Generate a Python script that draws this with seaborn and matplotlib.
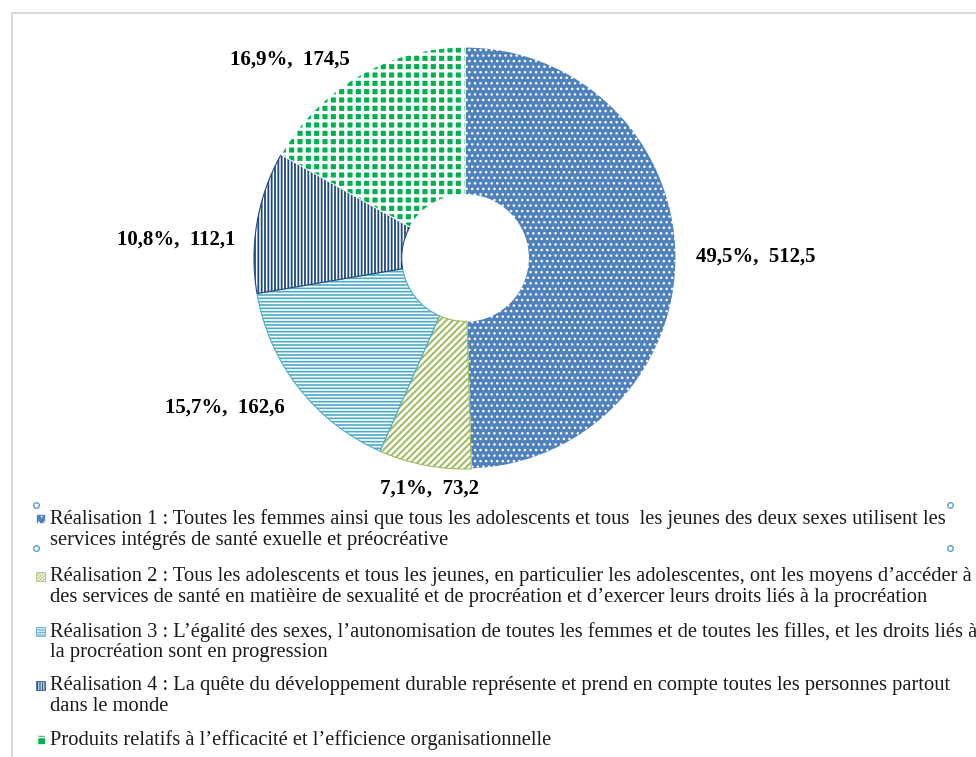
import matplotlib.pyplot as plt
import matplotlib.patches as mpatches
import seaborn as sns

sns.set_theme(style="white")
plt.rcParams['font.family'] = ['Liberation Serif', 'DejaVu Serif']
plt.rcParams['hatch.linewidth'] = 1.2

# data
values = [512.5, 73.2, 162.6, 112.1, 174.5]
percents = ["49,5%", "7,1%", "15,7%", "10,8%", "16,9%"]
value_labels = ["512,5", "73,2", "162,6", "112,1", "174,5"]
legend_texts = [
    "Réalisation 1 : Toutes les femmes ainsi que tous les adolescents et tous  les jeunes des deux sexes utilisent les\nservices intégrés de santé exuelle et préocréative",
    "Réalisation 2 : Tous les adolescents et tous les jeunes, en particulier les adolescentes, ont les moyens d’accéder à\ndes services de santé en matièire de sexualité et de procréation et d’exercer leurs droits liés à la procréation",
    "Réalisation 3 : L’égalité des sexes, l’autonomisation de toutes les femmes et de toutes les filles, et les droits liés à\nla procréation sont en progression",
    "Réalisation 4 : La quête du développement durable représente et prend en compte toutes les personnes partout\ndans le monde",
    "Produits relatifs à l’efficacité et l’efficience organisationnelle",
]

# styles: (face, hatch colour, hatch, hatch width)
styles = [
    ("#4F81BD", "white", "...", 1.0),
    ("white", "#9BBB59", "/////", 1.4),
    ("white", "#4BACC6", "-----", 1.2),
    ("white", "#1F497D", "|||||", 1.3),
    ("#00B050", "white", "++", 2.3),
]
label_pos = [(1.38, 0.005), (-0.17, -1.095), (-1.14, -0.71), (-1.37, 0.085), (-0.83, 0.94)]

fig = plt.figure(figsize=(9.76, 7.57), dpi=100)

# frame
fig.patches.append(mpatches.Rectangle((12 / 976, -0.05), 1.1, 1 - 13 / 757 + 0.05,
                                      transform=fig.transFigure, fill=False,
                                      edgecolor="#D9D9D9", linewidth=1.5))


def hatch_style(p, fc, hc, h, lw):
    p.set_facecolor(fc)
    p.set_edgecolor(hc)
    p.set_hatch(h)
    if hasattr(p, "set_hatch_linewidth"):
        p.set_hatch_linewidth(lw)
    else:
        p._hatch_linewidth = lw


ax = fig.add_axes([254 / 976, 288 / 757, 422 / 976, 422 / 757])
wedges, _ = ax.pie(values, startangle=90, counterclock=False, radius=1,
                   wedgeprops=dict(width=0.7, linewidth=0.8))
for w, st in zip(wedges, styles):
    hatch_style(w, *st)
ax.set_xlim(-1, 1)
ax.set_ylim(-1, 1)
ax.set_aspect("auto")
ax.axis("off")

for (x, y), p, v in zip(label_pos, percents, value_labels):
    ax.text(x, y, f"{p},  {v}", ha="center", va="center", fontsize=15,
            fontweight="bold", color="black", clip_on=False)

# legend
line_centers = [529.5, 587, 642, 696, 740]
icon_y = [518, 576, 631, 685, 739]
for (fc, hc, h, lw), txt, yc, yi in zip(styles, legend_texts, line_centers, icon_y):
    r = mpatches.Rectangle((36 / 976, 1 - (yi + 4.5) / 757), 9 / 976, 9 / 757,
                           transform=fig.transFigure, linewidth=0.5)
    hatch_style(r, fc, hc, h * 2 if fc == "white" else h, lw * 0.5)
    fig.patches.append(r)
    fig.text(50 / 976, 1 - yc / 757, txt, ha="left", va="center", fontsize=14.8,
             color="#1a1a1a", linespacing=1.1)

# selection handles
for hx, hy in [(36, 505), (950, 505), (36, 548), (950, 548)]:
    fig.add_artist(plt.Line2D([hx / 976], [1 - hy / 757], marker="o", markersize=4,
                              markerfacecolor="white", markeredgecolor="#5B9BD5",
                              transform=fig.transFigure))

fig.savefig("out.png", dpi=100)
